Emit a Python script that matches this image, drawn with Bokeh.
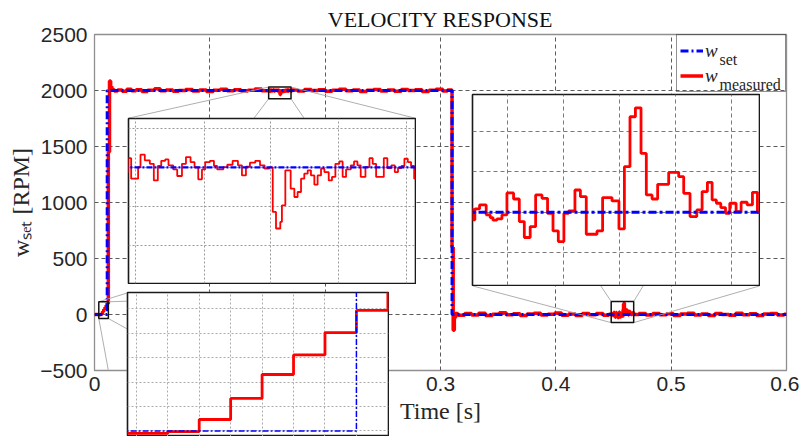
import numpy as np
from bokeh.plotting import figure
from bokeh.models import Range1d, FixedTicker, Legend, LegendItem, Label
from bokeh.embed import file_html
from bokeh.resources import INLINE

# ---------------- data (time in ms, speed in RPM) ----------------
t_set_ms = [0, 11, 310, 600]
w_set = [0, 2000, 0, 0]

# measured speed: start-up
t_start_ms = [0, 1, 2, 3, 4, 5, 6, 7, 8, 9, 10, 11, 12, 13, 14, 15]
w_start = [1, -1, 0, -2, -2, -0.5, 9.4, 26.6, 46.2, 62.2, 80.5, 98.6, 1450, 2085, 2035, 2008]

# plateau (coarse)
t_plat1_ms = [17, 20, 24, 28, 32, 36, 41, 46, 52, 57, 62, 68, 73, 79, 85, 91, 97, 103, 109, 115,
              121, 127, 133, 139, 145]
w_plat1 = [1996, 2004, 1994, 2012, 1998, 2006, 1992, 2003, 2015, 1997, 2005, 1993, 2001, 2010, 1996,
           2004, 1990, 2002, 2011, 1998, 2007, 1995, 2003, 2013, 1997]

# plateau detail (upper-left zoom)
t_zoom1_ms = [150.98, 151.18, 151.65, 151.81, 152.10, 152.44, 152.71, 152.98, 153.21, 153.48,
              153.70, 154.02, 154.29, 154.61, 154.88, 155.19, 155.46, 155.71, 155.96, 156.18,
              156.50, 156.77, 156.99, 157.40, 157.67, 158.03, 158.39, 158.66, 158.93, 159.20,
              159.56, 159.88, 160.19, 160.51, 160.74, 160.96, 161.25, 161.36, 161.59, 161.95,
              162.20, 162.42, 162.65, 162.87, 163.10, 163.32, 163.55, 163.77, 164.00, 164.23,
              164.52, 164.74, 164.97, 165.24, 165.46, 165.69, 166.01, 166.23, 166.46, 166.68,
              167.00, 167.27, 167.49, 167.72, 168.24, 168.48, 168.75, 168.98, 169.20, 169.43,
              169.63, 169.86, 170.08, 170.29]
w_zoom1 = [2005.9, 1992.8, 2000.2, 2008.1, 2004.5, 2002.3, 1991.7, 2000.9, 2004.2, 2005.1,
           2001.3, 1998.7, 1994.5, 2002.3, 2006.6, 2003.4, 2000.0, 1992.4, 1998.7, 2003.4,
           2004.2, 2000.9, 1998.7, 2000.2, 2001.7, 2004.2, 2001.3, 1994.9, 2000.4, 2003.0,
           2004.2, 2001.3, 1999.2, 2000.0, 1971.6, 1961.0, 1965.2, 1975.8, 1998.1, 1986.4,
           1981.1, 1984.3, 1992.8, 1996.0, 1998.1, 1994.9, 1989.0, 1994.9, 1999.2, 1997.0,
           1991.7, 1993.9, 2002.3, 2003.8, 1993.9, 1998.7, 2001.3, 2003.8, 2001.3, 1993.9,
           2000.2, 2005.9, 2002.3, 1993.9, 2005.9, 1999.6, 2001.3, 1997.0, 1999.6, 2000.9,
           2005.5, 2003.4, 2000.9, 1992.8]

t_plat2_ms = [171, 176, 182, 188, 194, 200, 206, 212, 218, 224, 230, 236, 242, 248, 254, 260,
              266, 272, 278, 284, 290, 296, 302, 306]
w_plat2 = [2004, 1995, 2009, 1999, 2006, 1993, 2003, 2012, 1997, 2005, 1991, 2002, 2010, 1996,
           2004, 1994, 2008, 1999, 2006, 1992, 2003, 2011, 1996, 2004]

# stop
t_fall_ms = [310, 311, 312, 313]
w_fall = [600, -140, -30, 8]

t_zero1_ms = [315, 321, 327, 333, 339, 345, 351, 357, 363, 369, 375, 381, 387, 393, 399, 405,
              411, 417, 423, 429, 435, 441, 446]
w_zero1 = [-6, 9, -4, 12, -8, 3, 15, -3, 6, -10, 4, 11, -5, 2, 14, -7, 5, -9, 8, -2, 10, -6, 3]

# standstill detail (right zoom)
t_zoom2_ms = [448.03, 448.16, 448.48, 448.93, 449.20, 449.39, 449.66, 450.00, 450.34, 450.79,
              451.18, 451.52, 451.92, 452.29, 452.72, 453.10, 453.47, 453.83, 454.21, 454.53,
              454.96, 455.33, 455.73, 456.46, 456.84, 457.48, 457.95, 458.32, 458.70, 459.07,
              459.45, 459.81, 460.20, 460.58, 461.33, 462.01, 462.35, 462.78, 463.24, 463.60,
              463.96, 464.28, 464.57, 464.87, 465.19, 465.48, 465.91, 466.25, 466.66, 467.02,
              467.36]
w_zoom2 = [-7.6, 3.3, 7.2, -2.6, -5.3, -7.9, -6.6, -2.6, 19.1, 13.1, -9.2, -25.0, -14.2, 17.1,
           13.8, -1.0, -18.5, -29.0, -1.0, 1.3, 22.0, 15.4, -21.8, -18.5, 14.5, 11.2, -16.5,
           45.1, 94.5, 103.3, 58.2, 17.1, 13.1, 27.6, 39.5, 35.2, 18.7, -4.3, 2.3, 20.4, 29.6,
           12.2, 8.9, 4.6, -1.0, 8.9, 0.6, 9.9, 7.2, 19.7, 0.0]

t_zero2_ms = [468, 472, 478, 484, 490, 496, 502, 508, 514, 520, 526, 532, 538, 544, 550, 556,
              562, 568, 574, 580, 586, 592, 598, 600]
w_zero2 = [0, 8, -5, 10, -3, 6, -9, 4, 12, -4, 5, -8, 9, 1, -6, 11, -2, 7, -10, 4, 9, -4, 3, 3]

x_ticks = [0, 0.1, 0.2, 0.3, 0.4, 0.5, 0.6]
y_ticks = [-500, 0, 500, 1000, 1500, 2000, 2500]

# zoom windows (s, RPM) and the boxes where the insets sit (main axis units)
zoom1_win = ((0.15100, 0.17038), (1925.9, 2031.2))
zoom1_box = ((0.0295, 0.2780), (275, 1753))
zoom1_xt = [0.1515, 0.1561, 0.1606, 0.1652, 0.1698]
zoom1_yt = [1950, 1975, 2000, 2025]

zoom2_win = ((0.4480, 0.4675), (-72.5, 116.5))
zoom2_box = ((0.3280, 0.5766), (255, 1964))
zoom2_xt = [0.4504, 0.4542, 0.4580, 0.4618, 0.4656]
zoom2_yt = [-40, 0, 40, 80]

zoom3_win = ((0.00372, 0.01202), (-35.6, 113.3))
zoom3_box = ((0.0286, 0.2550), (-1426, 193))
zoom3_xt = [0.004, 0.005, 0.006, 0.007, 0.008, 0.009, 0.010, 0.011]
zoom3_yt = [0, 20, 40, 60, 80, 100]

t_set = np.array(t_set_ms) / 1000.0
t_meas = np.array(t_start_ms + t_plat1_ms + t_zoom1_ms + t_plat2_ms + t_fall_ms
                  + t_zero1_ms + t_zoom2_ms + t_zero2_ms) / 1000.0
w_meas = np.array(w_start + w_plat1 + w_zoom1 + w_plat2 + w_fall + w_zero1 + w_zoom2 + w_zero2)

# ---------------- styling ----------------
SANS = "Liberation Sans"
SERIF = "Liberation Serif"
DARK = "#262626"
RED = "#ff0000"
BLUE = "#0000ff"

W, H = 799, 436
FL, FT, FW, FH = 94, 34, 692, 336
FR, FB = W - FL - FW, H - FT - FH
XR, YR = (0.0, 0.6), (-500.0, 2500.0)


def px_x(v):
    return FL + (v - XR[0]) / (XR[1] - XR[0]) * FW


def px_y(v):
    return FT + (YR[1] - v) / (YR[1] - YR[0]) * FH


def dx(px):
    return XR[0] + (px - FL) / FW * (XR[1] - XR[0])


def dy(py):
    return YR[1] - (py - FT) / FH * (YR[1] - YR[0])


p = figure(width=W, height=H, x_range=Range1d(*XR), y_range=Range1d(*YR),
           output_backend="svg", toolbar_location=None, title="VELOCITY RESPONSE",
           min_border_left=FL, min_border_right=FR, min_border_top=FT, min_border_bottom=FB)
p.title.text_font = SERIF
p.title.text_font_size = "22px"
p.title.text_font_style = "normal"
p.title.text_color = "#111111"
p.title.align = "center"
p.title.vertical_align = "bottom"
p.title.standoff = 5

p.background_fill_color = "white"
p.border_fill_color = "white"
p.outline_line_color = "#8f8f8f"
p.outline_line_width = 1.3

p.xaxis.ticker = FixedTicker(ticks=x_ticks)
p.yaxis.ticker = FixedTicker(ticks=y_ticks)
for ax in (p.xaxis[0], p.yaxis[0]):
    ax.axis_line_color = None
    ax.major_tick_line_color = None
    ax.minor_tick_line_color = None
    ax.major_tick_out = 0
    ax.major_tick_in = 0
    ax.major_label_text_font = SANS
    ax.major_label_text_font_size = "21px"
    ax.major_label_text_color = DARK
    ax.axis_label_text_font = SERIF
    ax.axis_label_text_font_size = "24px"
    ax.axis_label_text_font_style = "normal"
    ax.axis_label_text_color = DARK
p.xaxis.axis_label = "Time [s]"
p.yaxis.axis_label = "wₛₑₜ [RPM]"
p.xaxis.major_label_standoff = 6
p.xaxis.axis_label_standoff = 4
p.yaxis.major_label_standoff = 7
p.yaxis.axis_label_standoff = 3

for g in (p.xgrid[0], p.ygrid[0]):
    g.grid_line_color = "#5a5a5a"
    g.grid_line_dash = "4 3"
    g.grid_line_width = 1

r_meas = p.step(t_meas, w_meas, mode="after", line_color=RED, line_width=3.5)
r_set = p.step(t_set, w_set, mode="after", line_color=BLUE, line_width=3, line_dash="8 3 2 3")

# zoom rectangles and connector lines
for win, box in ((zoom1_win, zoom1_box), (zoom2_win, zoom2_box), (zoom3_win, zoom3_box)):
    (xa, xb), (ya, yb) = win
    (bx0, bx1), (by0, by1) = box
    p.segment(x0=[xa, xb, xa, xb], y0=[yb, yb, ya, ya],
              x1=[bx0, bx1, bx0, bx1], y1=[by1, by1, by0, by0],
              line_color="#a6a6a6", line_width=0.9)
    p.quad(left=[xa], right=[xb], bottom=[ya], top=[yb], fill_color=None,
           line_color="#111111", line_width=1.5)

# legend: the background stays transparent so the subscripts placed on it remain visible
legend = Legend(items=[LegendItem(label="w", renderers=[r_set]),
                       LegendItem(label="w", renderers=[r_meas])],
                location="top_right", margin=0, padding=3, spacing=0,
                glyph_width=23, glyph_height=25, label_height=25, label_width=77,
                label_standoff=2, label_text_font=SERIF, label_text_font_style="italic",
                label_text_font_size="19px", label_text_color=DARK,
                border_line_color=DARK, border_line_width=1, background_fill_alpha=0)
p.add_layout(legend)
for text, py in (("set", 59), ("measured", 84)):
    p.add_layout(Label(x=dx(719), y=dy(py), text=text, text_font=SERIF, text_font_size="16px",
                       text_color=DARK, text_baseline="alphabetic", level="overlay"))


def make_inset(win, box, xt, yt, grid_color, grid_dash, red_w, blue_w, blue_dash):
    (xa, xb), (ya, yb) = win
    (bx0, bx1), (by0, by1) = box
    left, right = round(px_x(bx0)), round(px_x(bx1))
    top, bottom = round(px_y(by1)), round(px_y(by0))
    mb = 1
    if bottom > H:  # the inset runs past the bottom of the page: show its visible part
        yb_vis = by1 - (by1 - by0) * (H - top) / (bottom - top)
        ya = yb - (yb - ya) * (by1 - yb_vis) / (by1 - by0)
        bottom, mb = H, 0
    fw, fh = right - left, bottom - top
    f = figure(width=fw + 2, height=fh + 1 + mb, x_range=Range1d(xa, xb), y_range=Range1d(ya, yb),
               x_axis_location=None, y_axis_location=None,
               min_border_left=1, min_border_right=1, min_border_top=1, min_border_bottom=mb,
               output_backend="svg", toolbar_location=None)
    f.styles = {"position": "absolute", "left": f"{left - 1}px", "top": f"{top - 1}px",
                "z-index": "2"}
    f.xgrid.ticker = FixedTicker(ticks=xt)
    f.ygrid.ticker = FixedTicker(ticks=yt)
    for g in (f.xgrid[0], f.ygrid[0]):
        g.grid_line_color = grid_color
        g.grid_line_dash = grid_dash
        g.grid_line_width = 1
    f.background_fill_color = "white"
    f.border_fill_color = "white"
    f.outline_line_color = "#1a1a1a"
    f.outline_line_width = 1.6
    f.step(t_meas, w_meas, mode="after", line_color=RED, line_width=red_w)
    f.step(t_set, w_set, mode="after", line_color=BLUE, line_width=blue_w, line_dash=blue_dash)
    return f


ins1 = make_inset(zoom1_win, zoom1_box, zoom1_xt, zoom1_yt, "#9a9a9a", "2 2", 1.8, 2.2, "6 2 2 2")
ins2 = make_inset(zoom2_win, zoom2_box, zoom2_xt, zoom2_yt, "#7a7a7a", "4 3", 2.8, 3.2, "8 3 3 3")
ins3 = make_inset(zoom3_win, zoom3_box, zoom3_xt, zoom3_yt, "#ababab", "2 2", 2.8, 1.5, "6 2 2 2")

open("out.html", "w").write(file_html([p, ins1, ins2, ins3], INLINE))
